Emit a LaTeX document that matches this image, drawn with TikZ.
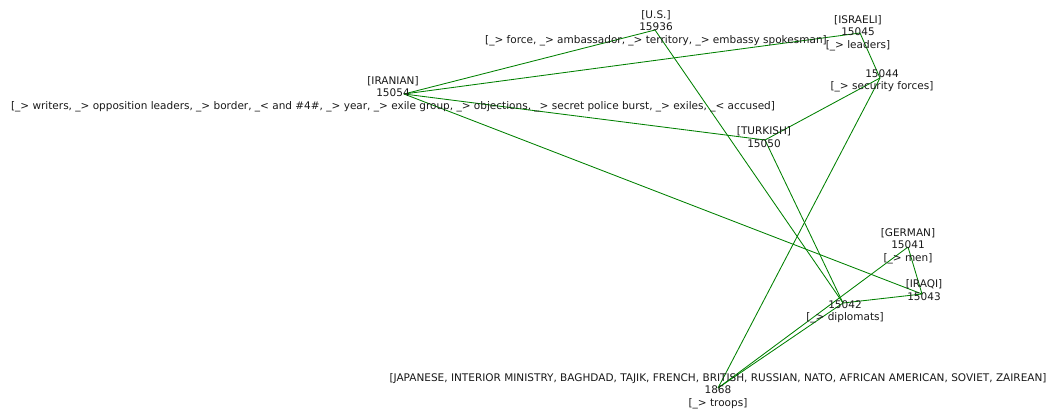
\documentclass[tikz,border=0pt]{standalone}
\usepackage{fontspec}
\setmainfont{DejaVu Sans}
\begin{document}
\begin{tikzpicture}[x=1pt,y=-1pt,
  edge/.style={draw=green!50!black, line width=0.85pt},
  lbl/.style={align=center, inner sep=0pt, text=black!90, font=\fontsize{10.5}{12.5}\selectfont}]
\useasboundingbox (0,0) rectangle (1055,410);

% graph points
\coordinate (iran) at (404,94);
\coordinate (us) at (655,30);
\coordinate (isr) at (860,33);
\coordinate (n15044) at (880,78);
\coordinate (turk) at (765,140);
\coordinate (germ) at (908,247);
\coordinate (iraq) at (922,294);
\coordinate (n15042) at (843,303);
\coordinate (n1868) at (718,388);

% connectors
\draw[edge] (iran) -- (us);
\draw[edge] (iran) -- (isr);
\draw[edge] (iran) -- (turk);
\draw[edge] (iran) -- (iraq);
\draw[edge] (us) -- (n15042);
\draw[edge] (isr) -- (n15044);
\draw[edge] (n15044) -- (turk);
\draw[edge] (n15044) -- (n1868);
\draw[edge] (turk) -- (n15042);
\draw[edge] (germ) -- (iraq);
\draw[edge] (germ) -- (n1868);
\draw[edge] (iraq) -- (n15042);
\draw[edge] (n1868) -- (n15042);

% labels
\node[lbl] (iranlbl) at (393,94) {[IRANIAN]\\15054\\{}[\_> writers, \_> opposition leaders, \_> border, \_< and \#4\#, \_> year, \_> exile group, \_> objections, \_> secret police burst, \_> exiles, \_< accused]};
\node[lbl] (uslbl) at (656,28) {[U.S.]\\15936\\{}[\_> force, \_> ambassador, \_> territory, \_> embassy spokesman]};
\node[lbl] (isrlbl) at (858,33) {[ISRAELI]\\15045\\{}[\_> leaders]};
\node[lbl] (lbl15044) at (882,81) {15044\\{}[\_> security forces]};
\node[lbl] (turklbl) at (764,137) {[TURKISH]\\15050};
\node[lbl] (germlbl) at (908,246) {[GERMAN]\\15041\\{}[\_> men]};
\node[lbl] (iraqlbl) at (924,290) {[IRAQI]\\15043};
\node[lbl] (lbl15042) at (845,312) {15042\\{}[\_> diplomats]};
\node[lbl] (lbl1868) at (718,391) {[JAPANESE, INTERIOR MINISTRY, BAGHDAD, TAJIK, FRENCH, BRITISH, RUSSIAN, NATO, AFRICAN AMERICAN, SOVIET, ZAIREAN]\\1868\\{}[\_> troops]};
\end{tikzpicture}
\end{document}
